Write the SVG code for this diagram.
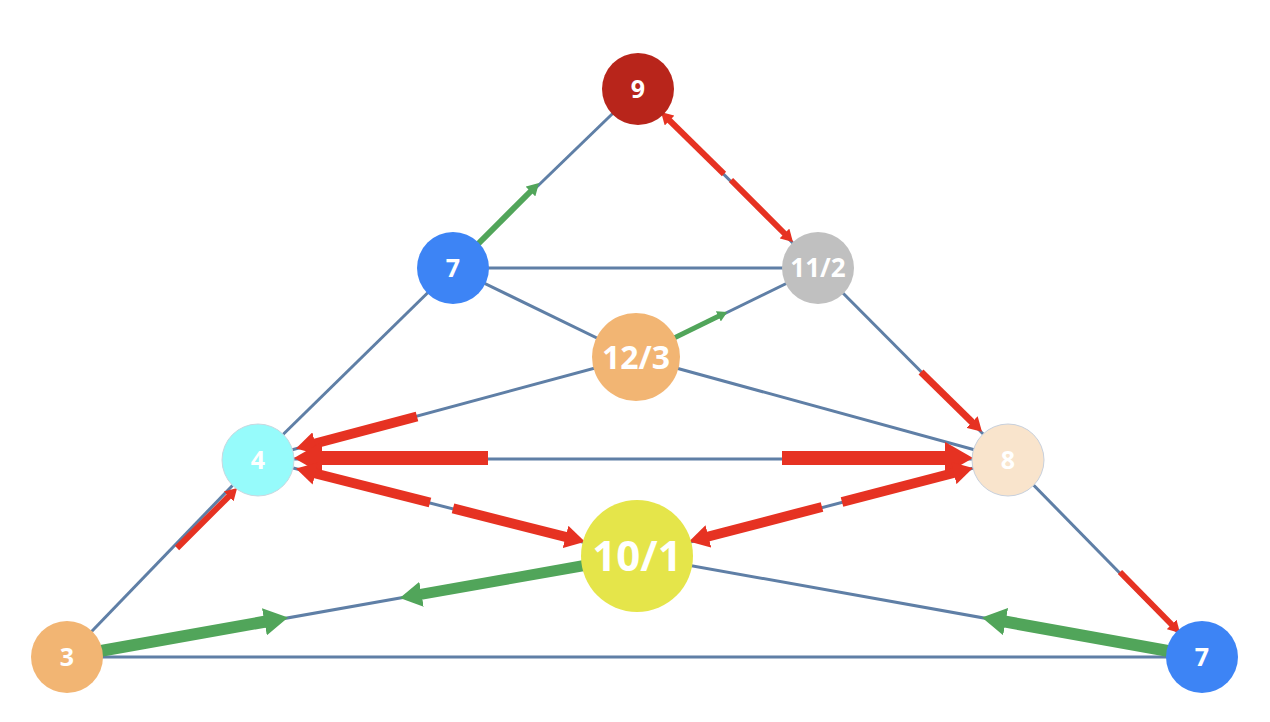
<svg xmlns="http://www.w3.org/2000/svg" width="1270" height="722" viewBox="0 0 1270 722">
<style>
.edge{stroke:#5f7fa6;stroke-width:3;fill:none}
.r{stroke:#e63222;fill:none}
.g{stroke:#51a55a;fill:none}
.r6{stroke-width:6}.r7{stroke-width:7}.r10{stroke-width:10}.r11{stroke-width:11}.r14{stroke-width:14}.r5{stroke-width:5}.r12{stroke-width:12}
.ra{marker-end:url(#hr)}
.ga{marker-end:url(#hg)}
.lbl{font-family:"Open Sans","Liberation Sans",sans-serif;font-weight:bold;fill:#ffffff;text-anchor:middle}
</style>
<defs>
<marker id="hr" viewBox="0 0 20 23" refX="6" refY="11.5" markerWidth="2" markerHeight="2.3" orient="auto" markerUnits="strokeWidth">
<path d="M0,0 L20,11.5 L0,23 z" fill="#e63222"/>
</marker>
<marker id="hg" viewBox="0 0 20 23" refX="6" refY="11.5" markerWidth="2" markerHeight="2.3" orient="auto" markerUnits="strokeWidth">
<path d="M0,0 L20,11.5 L0,23 z" fill="#51a55a"/>
</marker>
</defs>
<g id="connectors">
<line class="edge" x1="638" y1="89" x2="453" y2="268"/>
<line class="edge" x1="638" y1="89" x2="818" y2="268"/>
<line class="edge" x1="453" y1="268" x2="818" y2="268"/>
<line class="edge" x1="453" y1="268" x2="636" y2="357"/>
<line class="edge" x1="818" y1="268" x2="636" y2="357"/>
<line class="edge" x1="636" y1="357" x2="258" y2="459"/>
<line class="edge" x1="636" y1="357" x2="1008" y2="459"/>
<line class="edge" x1="453" y1="268" x2="258" y2="459"/>
<line class="edge" x1="818" y1="268" x2="1008" y2="459"/>
<line class="edge" x1="258" y1="459" x2="1008" y2="459"/>
<line class="edge" x1="258" y1="459" x2="637" y2="556"/>
<line class="edge" x1="1008" y1="459" x2="637" y2="556"/>
<line class="edge" x1="67" y1="657" x2="258" y2="459"/>
<line class="edge" x1="67" y1="657" x2="637" y2="556"/>
<line class="edge" x1="637" y1="556" x2="1202" y2="657"/>
<line class="edge" x1="1008" y1="459" x2="1202" y2="657"/>
<line class="edge" x1="67" y1="657" x2="1202" y2="657"/>

<line class="g r6 ga" x1="470" y1="252" x2="533" y2="189"/>
<line class="r r6 ra" x1="724" y1="174" x2="667" y2="118"/>
<line class="r r6 ra" x1="731" y1="180" x2="787" y2="236"/>
<line class="g r5 ga" x1="670" y1="340" x2="721" y2="315"/>
<line class="r r7 ra" x1="921" y1="372" x2="975" y2="425"/>
<line class="r r10 ra" x1="417" y1="416.5" x2="309.5" y2="445"/>
<line class="r r14 ra" x1="488" y1="458" x2="313.6" y2="458"/>
<line class="r r10 ra" x1="430" y1="502.5" x2="309.6" y2="472"/>
<line class="r r10 ra" x1="453" y1="508.4" x2="571.4" y2="538.4"/>
<line class="r r14 ra" x1="782" y1="458" x2="953.4" y2="458"/>
<line class="r r10 ra" x1="842" y1="502" x2="959.4" y2="471.5"/>
<line class="r r10 ra" x1="822" y1="507" x2="702.6" y2="538"/>
<line class="r r6 ra" x1="177" y1="548" x2="231.2" y2="494"/>
<line class="g r12 ga" x1="80" y1="654.7" x2="271.5" y2="620.5"/>
<line class="g r11 ga" x1="590" y1="564.5" x2="415" y2="595.4"/>
<line class="g r12 ga" x1="1190" y1="654.8" x2="998.5" y2="620.4"/>
<line class="r r6 ra" x1="1120" y1="572" x2="1174.1" y2="627"/>
</g>
<g id="n9"><circle cx="638" cy="89" r="36" fill="#b8251b"/><text class="lbl" x="638" y="98" font-size="25">9</text></g>
<g id="n7a"><circle cx="453" cy="268" r="36" fill="#3d84f5"/><text class="lbl" x="453" y="277" font-size="25">7</text></g>
<g id="n11_2"><circle cx="818" cy="268" r="36" fill="#c0c0c0"/><text class="lbl" x="818" y="277" font-size="26">11/2</text></g>
<g id="n12_3"><circle cx="636" cy="357" r="44" fill="#f2b573"/><text class="lbl" x="636" y="368.5" font-size="32">12/3</text></g>
<g id="n4"><circle cx="258" cy="460" r="36" fill="#96fbfb" stroke="#c8d8e0" stroke-width="1"/><text class="lbl" x="258" y="469" font-size="25">4</text></g>
<g id="n8"><circle cx="1008" cy="460" r="36" fill="#f9e4cc" stroke="#c8d0dc" stroke-width="1"/><text class="lbl" x="1008" y="469" font-size="25">8</text></g>
<g id="n10_1"><circle cx="637" cy="556" r="56" fill="#e5e54a"/><text class="lbl" x="637" y="571" font-size="42">10/1</text></g>
<g id="n3"><circle cx="67" cy="657" r="36" fill="#f2b573"/><text class="lbl" x="67" y="666" font-size="25">3</text></g>
<g id="n7b"><circle cx="1202" cy="657" r="36" fill="#3d84f5"/><text class="lbl" x="1202" y="666" font-size="25">7</text></g>
</svg>
